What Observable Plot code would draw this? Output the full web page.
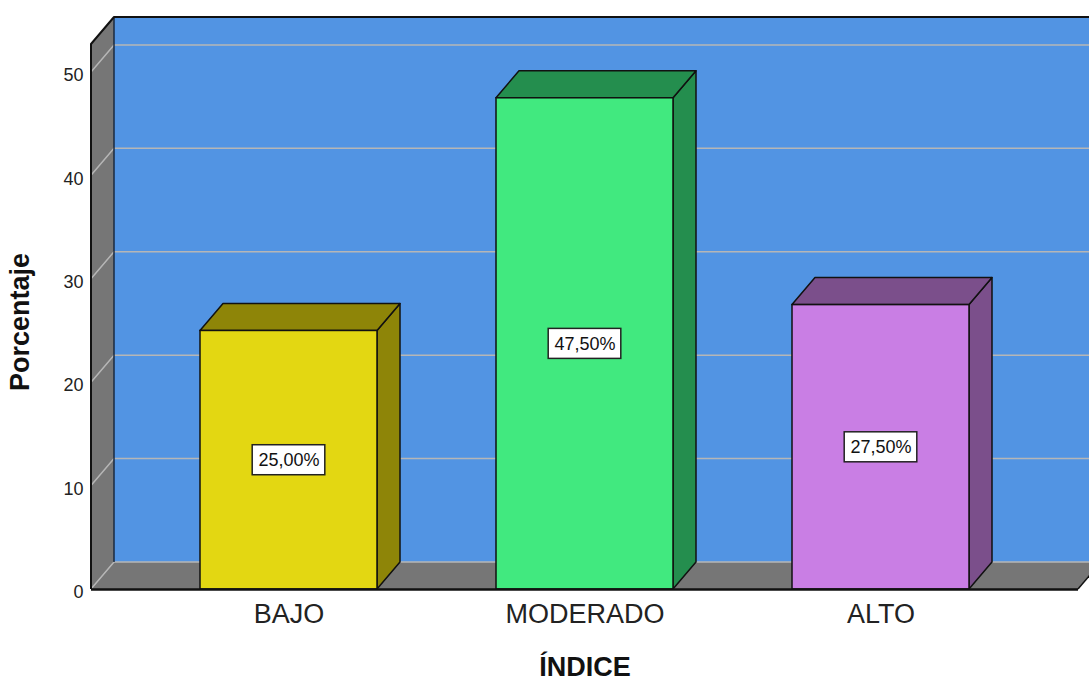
<!DOCTYPE html>
<html>
<head>
<meta charset="utf-8">
<script src="https://cdn.jsdelivr.net/npm/d3@7"></script>
<script src="https://cdn.jsdelivr.net/npm/@observablehq/plot@0.6"></script>
<style>
  html, body { margin: 0; padding: 0; background: #ffffff; overflow: hidden; }
  #chart svg { display: block; }
</style>
</head>
<body>
<div id="chart"></div>
<script>
// Distribution of the index by level (percent of respondents)
const categories = ["BAJO", "MODERADO", "ALTO"];
const percentages = [25, 47.5, 27.5];
const yTicks = [0, 10, 20, 30, 40, 50];
const yMax = 52.7;

// Face colours: front faces and the darker top/side faces
const frontColors = ["#e3d712", "#41e97f", "#c97ee4"];
const shadeColors = ["#8e8508", "#248e4e", "#7b4f8b"];

// Pseudo-3D depth (pixels) shared by the walls and the bars
const DX = 23, DY = -27;
const PAD_INNER = 0.403, PAD_OUTER = 0.367;
const WALL_BLUE = "#5294e3", WALL_GRAY = "#767676", GRID = "#b6b6b6";
const FONT = "'Liberation Sans', Arial, Helvetica, sans-serif";

const rows = categories.map((c, i) => ({
  indice: c,
  pct: percentages[i],
  label: percentages[i].toFixed(2).replace(".", ",") + "%"
}));

const pts = (p) => p.map(([x, y]) => `${x},${y}`).join(" ");

function bandwidthOf(sx) {
  if (typeof sx.bandwidth === "function") return sx.bandwidth();
  if (typeof sx.bandwidth === "number") return sx.bandwidth;
  return (sx(categories[1]) - sx(categories[0])) * (1 - PAD_INNER);
}

// Back wall, left wall, floor and grid lines
function walls(index, scales, values, dim) {
  const sy = scales.y;
  const left = dim.marginLeft, right = dim.width - dim.marginRight;
  const y0 = sy(0), yTop = sy(yMax);
  const g = d3.create("svg:g");
  g.append("rect")
    .attr("x", left + DX).attr("y", yTop + DY)
    .attr("width", right - left).attr("height", y0 - yTop)
    .attr("fill", WALL_BLUE);
  g.append("polygon")
    .attr("points", pts([[left, y0], [left, yTop], [left + DX, yTop + DY], [left + DX, y0 + DY]]))
    .attr("fill", WALL_GRAY);
  g.append("polygon")
    .attr("points", pts([[left, y0], [right, y0], [right + DX, y0 + DY], [left + DX, y0 + DY]]))
    .attr("fill", WALL_GRAY);
  for (const t of yTicks) {
    const y = sy(t);
    g.append("polyline")
      .attr("points", pts([[left, y], [left + DX, y + DY], [right + DX, y + DY]]))
      .attr("fill", "none").attr("stroke", GRID).attr("stroke-width", 1.5);
  }
  g.append("line")
    .attr("x1", left + DX).attr("x2", left + DX)
    .attr("y1", yTop + DY).attr("y2", y0 + DY)
    .attr("stroke", "#1a2a40").attr("stroke-width", 1.5);
  g.append("polyline")
    .attr("points", pts([[left, y0], [left, yTop], [left + DX, yTop + DY], [right + DX, yTop + DY]]))
    .attr("fill", "none").attr("stroke", "#111").attr("stroke-width", 2)
    .attr("stroke-linejoin", "round");
  g.append("line")
    .attr("x1", right).attr("x2", right + DX)
    .attr("y1", y0).attr("y2", y0 + DY)
    .attr("stroke", "#111").attr("stroke-width", 1.5);
  return g.node();
}

// Top and right-side faces of each bar
function barDepth(index, scales, values, dim) {
  const sx = scales.x, sy = scales.y;
  const bw = bandwidthOf(sx);
  const yb = sy(0);
  const g = d3.create("svg:g")
    .attr("stroke", "#111").attr("stroke-width", 1.5).attr("stroke-linejoin", "round");
  rows.forEach((r, i) => {
    const x0 = sx(r.indice), x1 = x0 + bw, yv = sy(r.pct);
    g.append("polygon")
      .attr("points", pts([[x1, yv], [x1 + DX, yv + DY], [x1 + DX, yb + DY], [x1, yb]]))
      .attr("fill", shadeColors[i]);
    g.append("polygon")
      .attr("points", pts([[x0, yv], [x1, yv], [x1 + DX, yv + DY], [x0 + DX, yv + DY]]))
      .attr("fill", shadeColors[i]);
  });
  return g.node();
}

// White boxes behind the value labels
function labelBoxes(index, scales, values, dim) {
  const sx = scales.x, sy = scales.y;
  const bw = bandwidthOf(sx);
  const g = d3.create("svg:g");
  rows.forEach((r) => {
    const cx = sx(r.indice) + bw / 2, cy = sy(r.pct / 2);
    const w = r.label.length * 10.6 + 9, h = 30;
    g.append("rect")
      .attr("x", cx - w / 2).attr("y", cy - h / 2)
      .attr("width", w).attr("height", h)
      .attr("fill", "#ffffff").attr("stroke", "#222").attr("stroke-width", 1.5);
  });
  return g.node();
}

const chart = Plot.plot({
  width: 1089,
  height: 684,
  marginLeft: 91,
  marginRight: 11,
  marginTop: 44,
  marginBottom: 95,
  style: { background: "#ffffff", fontFamily: FONT, overflow: "hidden" },
  x: { type: "band", domain: categories, paddingInner: PAD_INNER, paddingOuter: PAD_OUTER, axis: null },
  y: { domain: [0, yMax], axis: null },
  color: { domain: categories, range: frontColors },
  marks: [
    walls,
    barDepth,
    Plot.barY(rows, { x: "indice", y: "pct", fill: "indice", stroke: "#111", strokeWidth: 1.5 }),
    Plot.ruleY([0], { stroke: "#111", strokeWidth: 2.5 }),
    labelBoxes,
    Plot.text(rows, { x: "indice", y: (d) => d.pct / 2, text: "label", fontSize: 18, fill: "#111" }),
    // y tick labels
    Plot.text(yTicks, { y: (d) => d, text: (d) => String(d), frameAnchor: "left", textAnchor: "end", dx: -8, dy: 3, fontSize: 18, fill: "#222" }),
    // category labels
    Plot.text(categories, { x: (d) => d, text: (d) => d, frameAnchor: "bottom", dy: 33, fontSize: 27, fill: "#222" }),
    // axis titles
    Plot.text(["ÍNDICE"], { text: (d) => d, frameAnchor: "bottom", dy: 86, fontSize: 27, fontWeight: "bold", fill: "#111" }),
    Plot.text(["Porcentaje"], { text: (d) => d, frameAnchor: "left", textAnchor: "middle", rotate: -90, dx: -71, dy: 5, fontSize: 27, fontWeight: "bold", fill: "#111" })
  ]
});

document.getElementById("chart").appendChild(chart);
</script>
</body>
</html>
